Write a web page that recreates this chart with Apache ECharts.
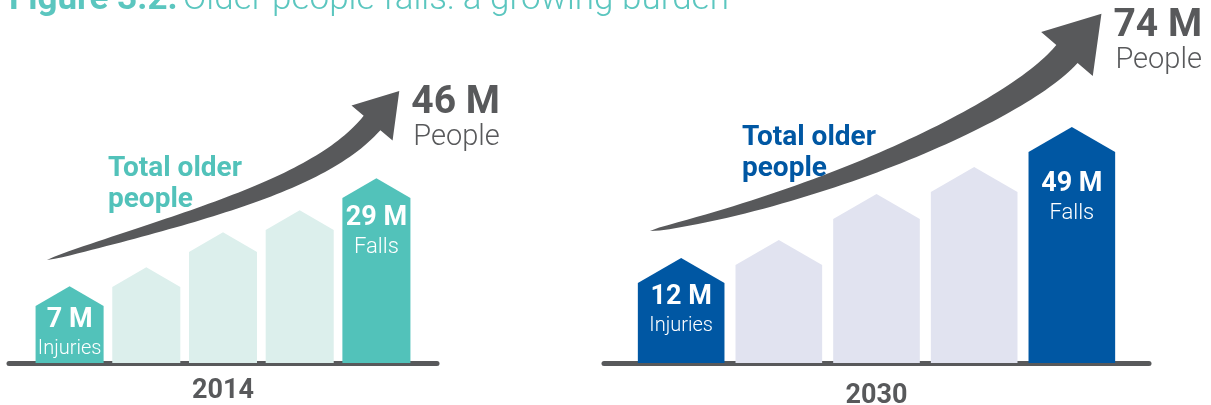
<!DOCTYPE html>
<html>
<head>
<meta charset="utf-8">
<script src="https://cdn.jsdelivr.net/npm/echarts@6/dist/echarts.min.js"></script>
<style>
html, body { margin: 0; padding: 0; background: #fff; }
#chart { width: 1211px; height: 405px; }
</style>
</head>
<body>
<div id="chart"></div>
<script>
// values
var years = ['2014', '2030'];
var barNames = ['Injuries', '', '', '', 'Falls'];
var levels2014 = [57, 76, 111, 133, 165];   // relative bar heights
var levels2030 = [80, 98, 144, 171, 211];
var injuriesM = [7, 12];
var fallsM = [29, 49];
var peopleM = [46, 74];

var GRAY = '#58595B';
var FONT = 'Roboto, "Open Sans", sans-serif';
var BAR_W = 0.887;

// arrow = cubic curve in axis units, then head in pixels
var panels = [
    {
        grid: { left: 9, width: 428 },
        levels: levels2014,
        hi: '#52C2BA', lo: '#DCEFEC', caption: '#52C2BA',
        labelDy: [14, 20], yearGap: 26,
        arrow: { pts: [[-0.295, 103], [1.661, 148], [3.265, 179], [3.943, 240]], halfW: 11, headHalf: 27, headLen: 42 },
        captionAt: [61, -107]
    },
    {
        grid: { left: 604, width: 545 },
        levels: levels2030,
        hi: '#0057A3', lo: '#E1E3F0', caption: '#0057A3',
        labelDy: [14, 32], yearGap: 31,
        arrow: { pts: [[-0.319, 132], [1.626, 170], [3.485, 256], [3.950, 309]], halfW: 14, headHalf: 34, headLen: 53 },
        captionAt: [92, -109]
    }
];

function barRender(p, k) {
    return function (params, api) {
        var i = api.value(0);
        var h = api.value(1);
        var base = api.coord([i, 0]);
        var top = api.coord([i, h]);
        var half = api.size([BAR_W, 0])[0] / 2;
        var roof = half * 0.58;
        var named = barNames[i] !== '';
        var children = [{
            type: 'polygon',
            shape: { points: [
                [base[0] - half, base[1]],
                [base[0] - half, top[1]],
                [base[0], top[1] - roof],
                [base[0] + half, top[1]],
                [base[0] + half, base[1]]
            ] },
            style: { fill: named ? p.hi : p.lo }
        }];
        if (named) {
            var v = i === 0 ? injuriesM[k] : fallsM[k];
            var ly = top[1] + (i === 0 ? p.labelDy[0] : p.labelDy[1]);
            children.push({
                type: 'text',
                style: { x: base[0], y: ly, text: v + ' M', fill: '#fff',
                    fontSize: 27, fontWeight: 'bold', fontFamily: FONT,
                    align: 'center', verticalAlign: 'middle' }
            });
            children.push({
                type: 'text',
                style: { x: base[0], y: ly + 29, text: barNames[i], fill: '#fff',
                    fontSize: i === 0 ? 20 : 22, fontWeight: 300, fontFamily: FONT,
                    align: 'center', verticalAlign: 'middle' }
            });
        }
        return { type: 'group', children: children };
    };
}

function arrowRender(p, k) {
    return function (params, api) {
        var a = p.arrow;
        var P = a.pts.map(function (d) { return api.coord(d); });
        var sideA = [], sideB = [];
        var N = 60;
        for (var s = 0; s <= N; s++) {
            var t = s / N, m = 1 - t;
            var b0 = m * m * m, b1 = 3 * m * m * t, b2 = 3 * m * t * t, b3 = t * t * t;
            var x = b0 * P[0][0] + b1 * P[1][0] + b2 * P[2][0] + b3 * P[3][0];
            var y = b0 * P[0][1] + b1 * P[1][1] + b2 * P[2][1] + b3 * P[3][1];
            var dx = 3 * m * m * (P[1][0] - P[0][0]) + 6 * m * t * (P[2][0] - P[1][0]) + 3 * t * t * (P[3][0] - P[2][0]);
            var dy = 3 * m * m * (P[1][1] - P[0][1]) + 6 * m * t * (P[2][1] - P[1][1]) + 3 * t * t * (P[3][1] - P[2][1]);
            var len = Math.sqrt(dx * dx + dy * dy);
            var nx = -dy / len, ny = dx / len;
            var w = a.halfW * Math.pow(t, 0.55);
            sideA.push([x - nx * w, y - ny * w]);
            sideB.push([x + nx * w, y + ny * w]);
        }
        var neck = P[3];
        var ux = P[3][0] - P[2][0], uy = P[3][1] - P[2][1];
        var ul = Math.sqrt(ux * ux + uy * uy);
        ux /= ul; uy /= ul;
        var nx2 = -uy, ny2 = ux;
        var tip = [neck[0] + ux * a.headLen, neck[1] + uy * a.headLen];
        var pts = sideA.concat([
            [neck[0] - nx2 * a.headHalf, neck[1] - ny2 * a.headHalf],
            tip,
            [neck[0] + nx2 * a.headHalf, neck[1] + ny2 * a.headHalf]
        ]).concat(sideB.reverse());
        return {
            type: 'group',
            children: [
                { type: 'polygon', shape: { points: pts }, style: { fill: GRAY } },
                { type: 'text', style: { x: tip[0] + 12, y: tip[1] + 12, text: peopleM[k] + ' M',
                    fill: GRAY, fontSize: 39, fontWeight: 'bold', fontFamily: FONT, verticalAlign: 'middle' } },
                { type: 'text', style: { x: tip[0] + 14, y: tip[1] + 47, text: 'People',
                    fill: GRAY, fontSize: 29, fontWeight: 300, fontFamily: FONT, verticalAlign: 'middle' } },
                { type: 'text', style: { x: P[0][0] + p.captionAt[0], y: P[0][1] + p.captionAt[1],
                    text: 'Total older\npeople', fill: p.caption, fontSize: 28, fontWeight: 'bold',
                    fontFamily: FONT, lineHeight: 31, verticalAlign: 'top' } }
            ]
        };
    };
}

var grids = [], xAxes = [], yAxes = [], series = [];
panels.forEach(function (p, k) {
    grids.push({ left: p.grid.left, width: p.grid.width, top: 0, bottom: 42,
        outerBoundsMode: 'none', containLabel: false });
    xAxes.push({
        type: 'value', gridIndex: k, min: -0.79, max: 4.79, offset: 2,
        axisLine: { show: true, lineStyle: { color: GRAY, width: 5 } },
        axisTick: { show: false }, axisLabel: { show: false }, splitLine: { show: false },
        name: years[k], nameLocation: 'middle', nameGap: p.yearGap,
        nameTextStyle: { color: GRAY, fontSize: 27, fontWeight: 'bold', fontFamily: FONT, verticalAlign: 'middle' }
    });
    yAxes.push({ type: 'value', gridIndex: k, min: 0, max: 363, show: false, splitLine: { show: false } });
    series.push({
        type: 'custom', xAxisIndex: k, yAxisIndex: k,
        renderItem: barRender(p, k),
        data: p.levels.map(function (v, i) { return [i, v]; }),
        silent: true
    });
    series.push({
        type: 'custom', xAxisIndex: k, yAxisIndex: k,
        renderItem: arrowRender(p, k),
        data: [[0, 0]], clip: false, silent: true, z: 3
    });
});

var chart = echarts.init(document.getElementById('chart'));
chart.setOption({
    animation: false,
    title: {
        text: '{b|Figure 3.2.} {l|Older people falls: a growing burden}',
        left: 9, top: -17, padding: 0,
        textStyle: {
            rich: {
                b: { fontSize: 35, fontWeight: 'bold', color: '#5BC6BF', fontFamily: FONT },
                l: { fontSize: 35, fontWeight: 300, color: '#5BC6BF', fontFamily: FONT }
            }
        }
    },
    grid: grids,
    xAxis: xAxes,
    yAxis: yAxes,
    series: series
});
</script>
</body>
</html>
